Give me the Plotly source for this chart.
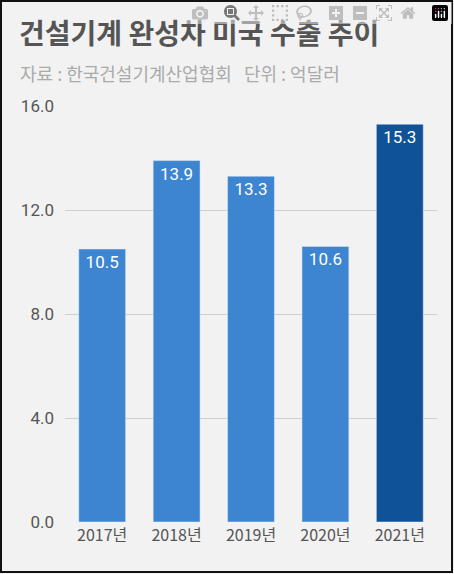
import plotly.graph_objects as go

years = ["2017년", "2018년", "2019년", "2020년", "2021년"]
values = [10.5, 13.9, 13.3, 10.6, 15.3]
colors = ["#3d85d0", "#3d85d0", "#3d85d0", "#3d85d0", "#0f5298"]
ticks = [0, 4, 8, 12, 16]

W, H = 454, 574
L, R, T, B = 65, 17, 106, 52
pw, ph = W - L - R, H - T - B
def px(x): return (x - L) / pw
def py(y): return (H - B - y) / ph

fig = go.Figure(go.Bar(
    x=years, y=values, marker_color=colors,
    text=[f"{v:.1f}" for v in values], textposition="inside",
    insidetextanchor="end", textangle=0,
    textfont=dict(color="white", size=17, family="Roboto"), constraintext="none",
))
font = "Noto Sans CJK KR"
fig.update_layout(
    width=W, height=H, margin=dict(l=L, r=R, t=T, b=B),
    paper_bgcolor="#f2f2f2", plot_bgcolor="#f2f2f2",
    font=dict(family=font, color="#555555", size=15),
    bargap=0.37, showlegend=False,
    yaxis=dict(range=[0, 16], tickvals=ticks, ticktext=[f"{t:.1f}" for t in ticks],
               gridcolor="#cfcfcf", zeroline=False, ticklabelstandoff=10,
               tickfont=dict(size=17, family="Roboto")),
    xaxis=dict(tickfont=dict(size=16), ticklabelstandoff=2),
    annotations=[
        dict(text="<b>건설기계 완성차 미국 수출 추이</b>", xref="paper", yref="paper",
             x=px(17), y=py(32), xanchor="left", yanchor="middle", showarrow=False,
             font=dict(size=28, color="#555555", family=font)),
        dict(text="자료 : 한국건설기계산업협회   단위 : 억달러", xref="paper", yref="paper",
             x=px(18), y=py(73), xanchor="left", yanchor="middle", showarrow=False,
             font=dict(size=18, color="#aaaaaa", family=font)),
    ],
    shapes=[dict(type="rect", xref="paper", yref="paper",
                 x0=px(1), x1=px(W - 2), y0=py(H - 2), y1=py(1),
                 line=dict(color="#111111", width=2), fillcolor="rgba(0,0,0,0)")],
)
fig.write_html("out.html", post_script="document.body.style.margin='0';")
